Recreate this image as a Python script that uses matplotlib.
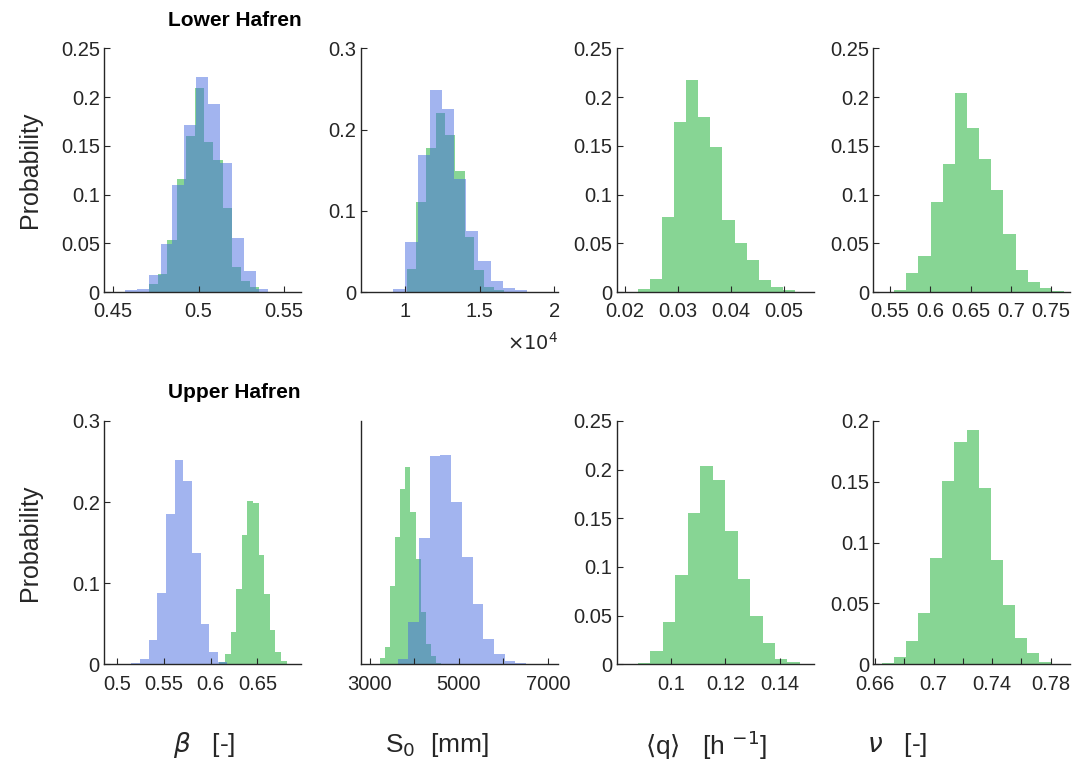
import matplotlib.pyplot as plt
import numpy as np
from matplotlib.ticker import FuncFormatter

plt.rcParams['font.family'] = ['Liberation Sans', 'DejaVu Sans']
plt.rcParams['mathtext.fontset'] = 'dejavusans'

# --- data (bin start, bin width, probabilities) ---
# Lower Hafren
lo_beta_blue_start, lo_beta_blue_w = 0.457, 0.00694
lo_beta_blue = [0.002, 0.0035, 0.0174, 0.049, 0.110, 0.171, 0.221, 0.193, 0.1325, 0.0557, 0.0215, 0.003]
lo_beta_green_start, lo_beta_green_w = 0.4711, 0.00536
lo_beta_green = [0.008, 0.018, 0.053, 0.116, 0.160, 0.209, 0.154, 0.135, 0.086, 0.026, 0.011, 0.005]

lo_s0_blue_start, lo_s0_blue_w = 9200, 815
lo_s0_blue = [0.004, 0.0615, 0.169, 0.249, 0.225, 0.1385, 0.075, 0.0377, 0.0135, 0.0053, 0.0025]
lo_s0_green_start, lo_s0_green_w = 10090, 650
lo_s0_green = [0.0287, 0.111, 0.177, 0.220, 0.193, 0.149, 0.068, 0.027, 0.0065, 0.003]

lo_q_start, lo_q_w = 0.02234, 0.00229
lo_q = [0.0027, 0.0137, 0.077, 0.1747, 0.2175, 0.180, 0.149, 0.0743, 0.0503, 0.0325, 0.0127, 0.005, 0.0017]

lo_nu_start, lo_nu_w = 0.555, 0.0151
lo_nu = [0.0024, 0.0195, 0.0366, 0.0925, 0.131, 0.204, 0.1685, 0.136, 0.1045, 0.0593, 0.023, 0.0103, 0.0041, 0.001]

# Upper Hafren
up_beta_blue_start, up_beta_blue_w = 0.5151, 0.00926
up_beta_blue = [0.001, 0.006, 0.030, 0.088, 0.185, 0.252, 0.226, 0.137, 0.050, 0.0156, 0.003]
up_beta_green_start, up_beta_green_w = 0.6092, 0.006
up_beta_green = [0.003, 0.0127, 0.040, 0.0927, 0.159, 0.2015, 0.199, 0.1346, 0.0862, 0.0423, 0.0156, 0.004]

up_s0_blue_start, up_s0_blue_w = 3627, 240
up_s0_blue = [0.0052, 0.043, 0.130, 0.214, 0.215, 0.167, 0.110, 0.062, 0.026, 0.011, 0.0035, 0.001]
up_s0_green_start, up_s0_green_w = 3221, 115
up_s0_green = [0.0062, 0.018, 0.080, 0.131, 0.180, 0.203, 0.157, 0.1085, 0.054, 0.021, 0.0086, 0.0018]

up_q_start, up_q_w = 0.0879, 0.00458
up_q = [0.001, 0.0137, 0.043, 0.092, 0.155, 0.2036, 0.189, 0.137, 0.088, 0.050, 0.0216, 0.0052, 0.0027]

up_nu_start, up_nu_w = 0.6646, 0.00827
up_nu = [0.0014, 0.0063, 0.019, 0.0424, 0.0876, 0.151, 0.1828, 0.1923, 0.1453, 0.0856, 0.049, 0.022, 0.009, 0.002]

green = '#87d594'
blue = (71/255, 107/255, 225/255)
axcol = '#262626'

W, H = 1087, 776
fig = plt.figure(figsize=(W/100, H/100), dpi=100)

col_left = [104, 360.7, 616.7, 873.3]
col_w = 197
row_top = [48.3, 421]
row_h = [243.7, 243.3]

def make_ax(r, c):
    l = col_left[c] / W
    b = 1 - (row_top[r] + row_h[r]) / H
    ax = fig.add_axes([l, b, col_w / W, row_h[r] / H])
    for s in ['top', 'right']:
        ax.spines[s].set_visible(False)
    for s in ['left', 'bottom']:
        ax.spines[s].set_color(axcol)
        ax.spines[s].set_linewidth(1.0)
    ax.tick_params(direction='in', length=4, width=0.8, colors=axcol, labelsize=14.5)
    ax.tick_params(axis='x', pad=7.5)
    ax.tick_params(axis='y', pad=3)
    ax.yaxis.set_major_formatter(FuncFormatter(lambda v, p: '%g' % round(v, 4)))
    ax.xaxis.set_major_formatter(FuncFormatter(lambda v, p: '%g' % round(v, 4)))
    return ax

def hist(ax, start, w, vals, color, alpha=1.0):
    edges = start + w * np.arange(len(vals) + 1)
    ax.stairs(vals, edges, fill=True, color=color, alpha=alpha, linewidth=0)

# Row 1
ax = make_ax(0, 0)
hist(ax, lo_beta_green_start, lo_beta_green_w, lo_beta_green, green)
hist(ax, lo_beta_blue_start, lo_beta_blue_w, lo_beta_blue, blue, 0.5)
ax.set_xlim(0.4448, 0.5598); ax.set_ylim(0, 0.25)
ax.set_xticks([0.45, 0.5, 0.55]); ax.set_yticks(np.arange(0, 0.26, 0.05))

ax = make_ax(0, 1)
hist(ax, lo_s0_green_start, lo_s0_green_w, lo_s0_green, green)
hist(ax, lo_s0_blue_start, lo_s0_blue_w, lo_s0_blue, blue, 0.5)
ax.set_xlim(7020, 20220); ax.set_ylim(0, 0.3)
ax.set_xticks([10000, 15000, 20000]); ax.set_yticks([0, 0.1, 0.2, 0.3])
ax.xaxis.set_major_formatter(FuncFormatter(lambda v, p: '%g' % (v / 1e4)))
ax.text(1.0, -0.21, r'$\times10^4$', transform=ax.transAxes, ha='right', va='center',
        fontsize=14, color=axcol)

ax = make_ax(0, 2)
hist(ax, lo_q_start, lo_q_w, lo_q, green)
ax.set_xlim(0.0184, 0.0556); ax.set_ylim(0, 0.25)
ax.set_xticks([0.02, 0.03, 0.04, 0.05]); ax.set_yticks(np.arange(0, 0.26, 0.05))

ax = make_ax(0, 3)
hist(ax, lo_nu_start, lo_nu_w, lo_nu, green)
ax.set_xlim(0.529, 0.774); ax.set_ylim(0, 0.25)
ax.set_xticks([0.55, 0.6, 0.65, 0.7, 0.75]); ax.set_yticks(np.arange(0, 0.26, 0.05))

# Row 2
ax = make_ax(1, 0)
hist(ax, up_beta_green_start, up_beta_green_w, up_beta_green, green)
hist(ax, up_beta_blue_start, up_beta_blue_w, up_beta_blue, blue, 0.5)
ax.set_xlim(0.486, 0.6965); ax.set_ylim(0, 0.3)
ax.set_xticks([0.5, 0.55, 0.6, 0.65]); ax.set_yticks([0, 0.1, 0.2, 0.3])

ax = make_ax(1, 1)
hist(ax, up_s0_green_start, up_s0_green_w, up_s0_green, green)
hist(ax, up_s0_blue_start, up_s0_blue_w, up_s0_blue, blue, 0.5)
ax.set_xlim(2793, 7222); ax.set_ylim(0, 0.25)
ax.set_xticks([3000, 4000, 5000, 6000, 7000]); ax.set_yticks([])
ax.xaxis.set_major_formatter(FuncFormatter(lambda v, p: '%d' % v if v in (3000, 5000, 7000) else ''))

ax = make_ax(1, 2)
hist(ax, up_q_start, up_q_w, up_q, green)
ax.set_xlim(0.0801, 0.1525); ax.set_ylim(0, 0.25)
ax.set_xticks([0.1, 0.12, 0.14]); ax.set_yticks(np.arange(0, 0.26, 0.05))

ax = make_ax(1, 3)
hist(ax, up_nu_start, up_nu_w, up_nu, green)
ax.set_xlim(0.6589, 0.7933); ax.set_ylim(0, 0.2)
ax.set_xticks([0.66, 0.68, 0.7, 0.72, 0.74, 0.76, 0.78]); ax.set_yticks([0, 0.05, 0.1, 0.15, 0.2])
ax.xaxis.set_major_formatter(FuncFormatter(
    lambda v, p: '%g' % round(v, 2) if round(v, 2) in (0.66, 0.7, 0.74, 0.78) else ''))

# titles and labels
fig.text(168 / W, 1 - 20 / H, 'Lower Hafren', fontsize=15, fontweight='bold', va='center', ha='left')
fig.text(168 / W, 1 - 393 / H, 'Upper Hafren', fontsize=15, fontweight='bold', va='center', ha='left')
fig.text(30 / W, 1 - 170 / H, 'Probability', fontsize=18, rotation=90, va='center', ha='center', color=axcol)
fig.text(30 / W, 1 - 543 / H, 'Probability', fontsize=18, rotation=90, va='center', ha='center', color=axcol)

ylab = 1 - 745 / H
fig.text(173 / W, ylab, r'$\beta$   [-]', fontsize=19, va='center', ha='left', color=axcol)
fig.text(385 / W, ylab, r'S$_0$  [mm]', fontsize=19, va='center', ha='left', color=axcol)
fig.text(645 / W, ylab, r'$\langle$q$\rangle$   [h $^{-1}$]', fontsize=19, va='center', ha='left', color=axcol)
fig.text(867 / W, ylab, r'$\nu$   [-]', fontsize=19, va='center', ha='left', color=axcol)

fig.savefig('out.png', dpi=100)
